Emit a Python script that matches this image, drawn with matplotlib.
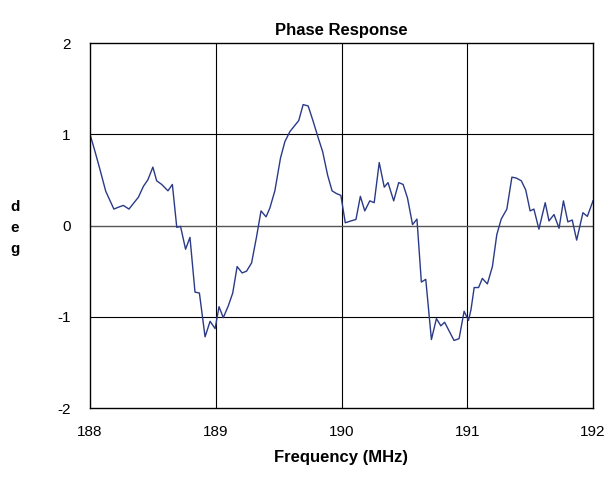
import matplotlib
matplotlib.use("Agg")
import matplotlib.pyplot as plt
from matplotlib import font_manager

freq = [188.0, 188.04, 188.08, 188.125, 188.16, 188.19, 188.225, 188.265, 188.31, 188.35,
        188.385, 188.425, 188.46, 188.5, 188.53, 188.57, 188.62, 188.655, 188.69, 188.72,
        188.76, 188.795, 188.835, 188.87, 188.915, 188.955, 188.995, 189.026, 189.06, 189.1,
        189.135, 189.17, 189.21, 189.245, 189.285, 189.325, 189.36, 189.4, 189.43, 189.47,
        189.515, 189.55, 189.59, 189.625, 189.66, 189.695, 189.735, 189.775, 189.815, 189.85,
        189.89, 189.925, 189.96, 189.995, 190.03, 190.075, 190.115, 190.15, 190.185, 190.225,
        190.26, 190.3, 190.34, 190.37, 190.415, 190.455, 190.49, 190.525, 190.565, 190.6,
        190.635, 190.67, 190.715, 190.755, 190.79, 190.82, 190.865, 190.895, 190.935, 190.975,
        191.01, 191.03, 191.055, 191.09, 191.12, 191.16, 191.2, 191.235, 191.27, 191.315,
        191.355, 191.39, 191.43, 191.465, 191.5, 191.53, 191.57, 191.62, 191.65, 191.69,
        191.73, 191.765, 191.8, 191.835, 191.87, 191.92, 191.955, 192.0]
phase = [1.0, 0.81, 0.61, 0.376, 0.27, 0.18, 0.20, 0.22, 0.18, 0.25,
         0.31, 0.43, 0.50, 0.64, 0.49, 0.45, 0.38, 0.45, -0.02, -0.01,
         -0.26, -0.13, -0.73, -0.74, -1.22, -1.05, -1.13, -0.89, -1.01, -0.88,
         -0.74, -0.45, -0.52, -0.50, -0.41, -0.12, 0.16, 0.095, 0.19, 0.38,
         0.74, 0.92, 1.03, 1.09, 1.15, 1.325, 1.31, 1.14, 0.96, 0.81,
         0.55, 0.38, 0.35, 0.33, 0.03, 0.05, 0.066, 0.32, 0.16, 0.27,
         0.25, 0.69, 0.42, 0.47, 0.27, 0.47, 0.45, 0.30, 0.01, 0.07,
         -0.62, -0.59, -1.25, -1.02, -1.10, -1.06, -1.18, -1.26, -1.24, -0.94,
         -1.04, -0.92, -0.68, -0.68, -0.58, -0.64, -0.45, -0.10, 0.07, 0.18,
         0.53, 0.52, 0.49, 0.39, 0.16, 0.18, -0.04, 0.25, 0.05, 0.12,
         -0.03, 0.27, 0.04, 0.06, -0.16, 0.14, 0.10, 0.27]

x_ticks = [188, 189, 190, 191, 192]
y_ticks = [-2, -1, 0, 1, 2]

names = {f.name for f in font_manager.fontManager.ttflist}
fam = ['Liberation Sans Narrow'] if 'Liberation Sans Narrow' in names else ['Liberation Sans']
plt.rcParams['font.family'] = fam + ['DejaVu Sans']

fig = plt.figure(figsize=(6.16, 4.83), dpi=100)
ax = fig.add_axes([90/616, 1-408/483, (593-90)/616, (408-43)/483])
ax.plot(freq, phase, color='#2b3a87', lw=1.0)
ax.set_xlim(188, 192)
ax.set_ylim(-2, 2)
ax.set_xticks(x_ticks)
ax.set_yticks(y_ticks)
ax.set_xticklabels([str(v) for v in x_ticks], fontsize=11)
ax.set_yticklabels([str(v) for v in y_ticks], fontsize=11)
ax.tick_params(length=0, pad=12)
ax.tick_params(axis='y', pad=14)
for v in x_ticks[1:-1]:
    ax.axvline(v, color='black', lw=0.8, zorder=1)
for v in y_ticks[1:-1]:
    ax.axhline(v, color='#555555' if v == 0 else 'black', lw=1.0 if v == 0 else 0.8, zorder=1)
for s in ax.spines.values():
    s.set_linewidth(1.0)
    s.set_color('black')
ax.set_title('Phase Response', fontsize=12, fontweight='bold', pad=6)
ax.set_xlabel('Frequency (MHz)', fontsize=12, fontweight='bold', labelpad=8)
fig.text(15/616, 1-228/483, 'd\ne\ng', fontsize=11, fontweight='bold', ha='center', va='center', linespacing=1.6)
fig.savefig('out.png', dpi=100)
